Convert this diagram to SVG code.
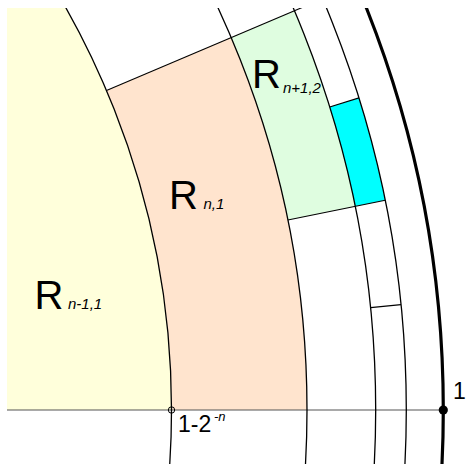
<svg xmlns="http://www.w3.org/2000/svg" width="467" height="464" viewBox="0 0 467 464">
<defs>
<clipPath id="clip"><rect x="7" y="8" width="460" height="456"/></clipPath>
<style>
.arc{fill:none;stroke:#000;stroke-width:1.3}
.thick{fill:none;stroke:#000;stroke-width:3.2}
.rad{stroke:#000;stroke-width:1.1;fill:none}
.axis{stroke:#555;stroke-width:1.2}
.big{font-family:"Liberation Sans",Arial,sans-serif;font-size:40px;fill:#000}
.sub{font-family:"Liberation Sans",Arial,sans-serif;font-size:15px;font-style:italic;fill:#000}
.lbl{font-family:"Liberation Sans",Arial,sans-serif;font-size:23px;fill:#000}
.sup{font-family:"Liberation Sans",Arial,sans-serif;font-size:13px;font-style:italic;fill:#000}
</style>
</defs>
<rect width="467" height="464" fill="#fff"/>
<g clip-path="url(#clip)">
<g id="R_n-1_1">
<path d="M 7,8 L 65.8,8 A 817.5 817.5 0 0 1 171.5,410 L 7,410 Z" fill="#FFFFDB"/>
</g>
<g id="R_n_1">
<path d="M 171.5,410 L 307,410 A 953 953 0 0 0 231.2,37.6 L 106.5,90.6 A 817.5 817.5 0 0 1 171.5,410 Z" fill="#FFE4CE"/>
</g>
<g id="R_n+1_2">
<path d="M 287.9,220 L 355.2,206.3 A 1021.7 1021.7 0 0 0 294.5,10.8 L 231.2,37.6 A 953 953 0 0 1 287.9,220 Z" fill="#DFFDE0"/>
</g>
<g id="cell_cyan">
<path d="M 355.2,206.3 L 385.2,200.2 A 1052.3 1052.3 0 0 0 359.0,97.9 L 329.7,107.0 A 1021.7 1021.7 0 0 1 355.2,206.3 Z" fill="#00FFFF"/>
</g>
<g id="connectors">
<line class="axis" x1="7" y1="410" x2="443.3" y2="410"/>
<circle class="arc" cx="-646" cy="410" r="817.5"/>
<circle class="arc" cx="-646" cy="410" r="953"/>
<circle class="arc" cx="-646" cy="410" r="1021.7"/>
<circle class="arc" cx="-646" cy="410" r="1052.3"/>
<circle class="thick" cx="-646" cy="410" r="1089.3"/>
<line class="rad" x1="106.5" y1="90.6" x2="322.6" y2="-1.2"/>
<line class="rad" x1="287.9" y1="220" x2="385.2" y2="200.2"/>
<line class="rad" x1="329.7" y1="107.0" x2="359.0" y2="97.9"/>
<line class="rad" x1="370.6" y1="307.6" x2="401.0" y2="304.6"/>
</g>
</g>
<g id="points">
<circle cx="171.5" cy="410" r="3.2" fill="none" stroke="#000" stroke-width="1"/>
<circle cx="443.3" cy="410" r="4.6" fill="#000"/>
</g>
<g id="labels">
<text class="big" x="34.5" y="309.3">R</text><text class="sub" x="68" y="309.3">n-1,1</text>
<text class="big" x="169" y="209.3">R</text><text class="sub" x="203.5" y="209.3">n,1</text>
<text class="big" x="252" y="88.3">R</text><text class="sub" x="283" y="93.3">n+1,2</text>
<text class="lbl" x="178" y="432.3">1-2</text><text class="sup" x="214" y="421">-n</text>
<text class="lbl" x="453" y="399.3">1</text>
</g>
</svg>
